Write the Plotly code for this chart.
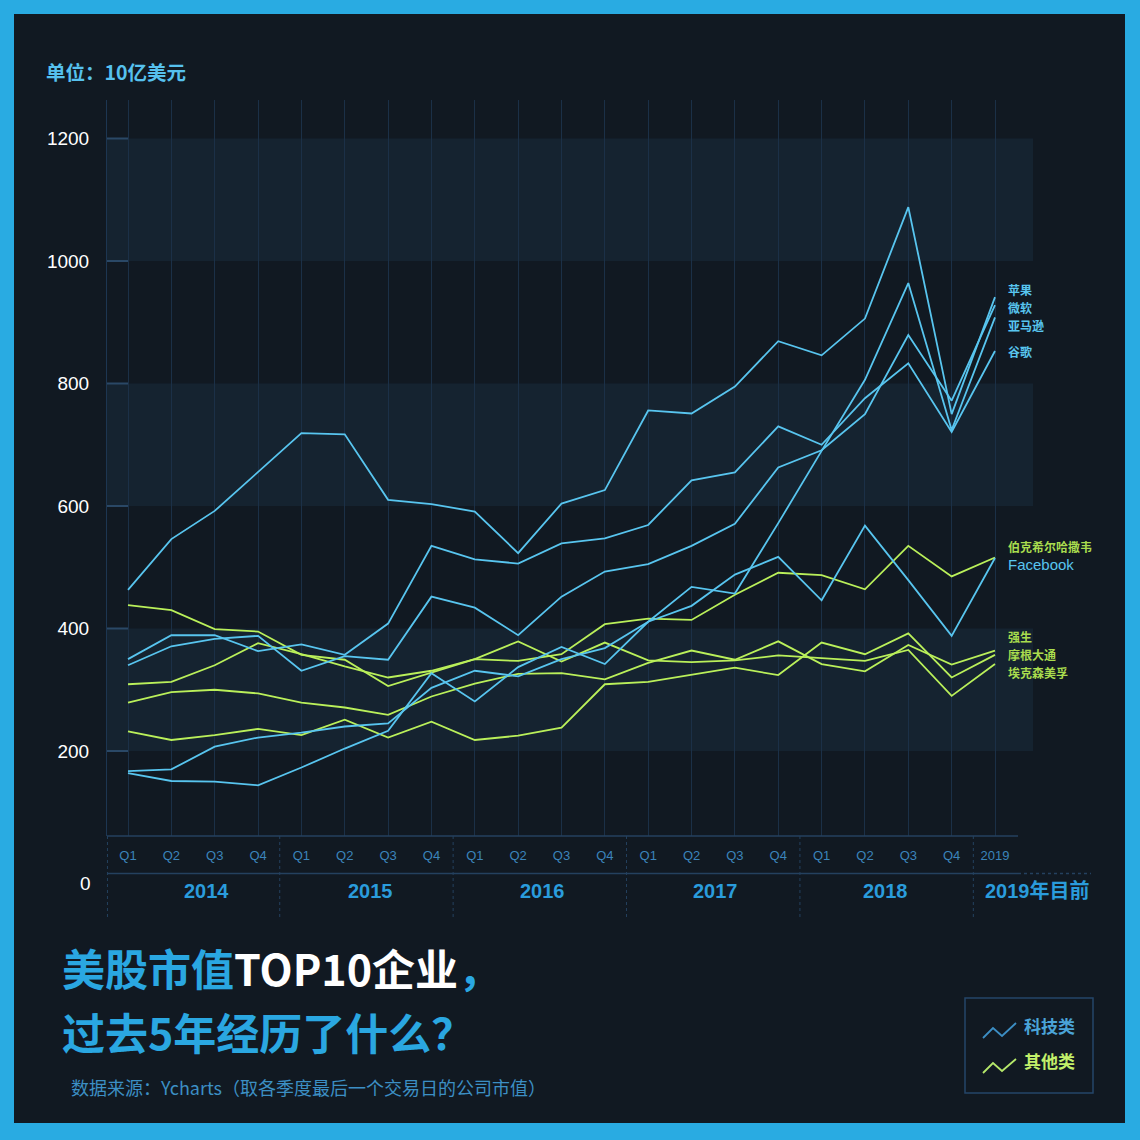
import plotly.graph_objects as go

# ---------------- data (values in billions USD) ----------------
quarter_labels = ["Q1", "Q2", "Q3", "Q4"] * 5 + ["2019"]
year_labels = ["2014", "2015", "2016", "2017", "2018", "2019年目前"]
y_tick_values = [200, 400, 600, 800, 1000, 1200]

apple = [463, 546, 592, 655, 719, 717, 610, 603, 591, 523, 604, 626, 756, 751, 795, 869, 846, 906, 1088, 750, 941]
microsoft = [340, 371, 383, 388, 331, 355, 349, 452, 434, 389, 452, 493, 505, 535, 571, 663, 691, 750, 879, 772, 928]
amazon = [164, 151, 150, 144, 173, 204, 233, 327, 281, 337, 370, 342, 411, 468, 457, 572, 690, 806, 964, 724, 908]
google = [350, 389, 389, 363, 374, 357, 408, 535, 513, 506, 539, 547, 569, 642, 655, 730, 700, 776, 833, 721, 853]
facebook = [167, 170, 207, 222, 230, 240, 245, 303, 331, 322, 350, 368, 411, 437, 488, 517, 446, 568, 479, 388, 515]

berkshire = [309, 313, 340, 376, 358, 338, 320, 331, 350, 347, 358, 407, 416, 414, 455, 491, 487, 464, 535, 485, 516]
exxon = [438, 430, 399, 395, 357, 349, 306, 328, 350, 379, 346, 377, 348, 345, 348, 356, 351, 347, 365, 290, 342]
jnj = [279, 296, 300, 294, 279, 271, 259, 289, 310, 326, 327, 317, 344, 364, 349, 379, 342, 330, 373, 341, 364]
jpm = [232, 218, 226, 236, 226, 251, 222, 248, 218, 225, 238, 309, 313, 324, 336, 324, 377, 358, 392, 320, 357]

tech_series = [("苹果", apple), ("微软", microsoft), ("亚马逊", amazon), ("谷歌", google), ("Facebook", facebook)]
other_series = [("伯克希尔哈撒韦", berkshire), ("强生", jnj), ("摩根大通", jpm), ("埃克森美孚", exxon)]

# ---------------- styling / layout ----------------
FRAME = "#29ABE2"
BG = "#111922"
BAND = "#152330"
GRID = "#1b3047"
CYAN = "#58C5EF"
GREEN = "#BAF05A"
LABEL_GREEN = "#A9DC4E"
TITLE_BLUE = "#2AA7E1"
CJK = "Noto Sans CJK SC"
LATIN = "Liberation Sans, Arial, sans-serif"

L, T, W, H = 107, 100, 926, 736          # plot area in pixels
X0PX, STEP = 128, 43.35                  # pixel of first quarter, pixels per quarter
ZERO_PX, PXU = 873.5, 0.6125             # pixel of value 0, pixels per unit


def px2x(px):
    return (px - L) / W


def px2y(py):
    return (T + H - py) / H


x_range = [(L - X0PX) / STEP, (L + W - X0PX) / STEP]
y_range = [(ZERO_PX - (T + H)) / PXU, (ZERO_PX - T) / PXU]
idx = list(range(len(quarter_labels)))

fig = go.Figure()
for name, vals in other_series:
    fig.add_trace(go.Scatter(x=idx, y=vals, mode="lines", name=name,
                             line=dict(color=GREEN, width=1.8), hoverinfo="skip", showlegend=False))
for name, vals in tech_series:
    fig.add_trace(go.Scatter(x=idx, y=vals, mode="lines", name=name,
                             line=dict(color=CYAN, width=1.8), hoverinfo="skip", showlegend=False))

shapes = []
# inner dark panel inside blue frame
shapes.append(dict(type="rect", xref="paper", yref="paper", x0=px2x(14), x1=px2x(1125),
                   y0=px2y(1123), y1=px2y(14), fillcolor=BG, line=dict(width=0), layer="below"))
# alternating bands
for lo, hi in [(200, 400), (600, 800), (1000, 1200)]:
    shapes.append(dict(type="rect", xref="paper", yref="y", x0=0, x1=1, y0=lo, y1=hi,
                       fillcolor=BAND, line=dict(width=0), layer="below"))
# short tick segments at band boundaries
for v in y_tick_values:
    shapes.append(dict(type="line", xref="paper", yref="y", x0=0, x1=px2x(X0PX), y0=v, y1=v,
                       line=dict(color="#2a4866", width=2), layer="above"))
# x band lines
shapes.append(dict(type="line", xref="paper", yref="paper", x0=0, x1=px2x(1018), y0=0, y1=0,
                   line=dict(color="#24415f", width=1.5)))
shapes.append(dict(type="line", xref="paper", yref="paper", x0=0, x1=px2x(1018),
                   y0=px2y(ZERO_PX), y1=px2y(ZERO_PX), line=dict(color="#24415f", width=1.5)))
shapes.append(dict(type="line", xref="paper", yref="paper", x0=px2x(1018), x1=px2x(1091),
                   y0=px2y(ZERO_PX), y1=px2y(ZERO_PX), line=dict(color="#24415f", width=1.5, dash="dot")))
# dotted year separators
shapes.append(dict(type="line", xref="paper", yref="paper", x0=0.0005, x1=0.0005, y0=0, y1=px2y(917),
                   line=dict(color="#24415f", width=1, dash="dot")))
for s in [3.5, 7.5, 11.5, 15.5, 19.5]:
    shapes.append(dict(type="line", xref="x", yref="paper", x0=s, x1=s, y0=0, y1=px2y(917),
                       line=dict(color="#24415f", width=1, dash="dot")))
# legend box and icons
shapes.append(dict(type="rect", xref="paper", yref="paper", x0=px2x(965), x1=px2x(1093),
                   y0=px2y(1093), y1=px2y(998), line=dict(color="#24466a", width=1.5)))


def icon(pts, color):
    p = "M " + " L ".join(f"{px2x(a)},{px2y(b)}" for a, b in pts)
    return dict(type="path", xref="paper", yref="paper", path=p, line=dict(color=color, width=1.8))


shapes.append(icon([(983, 1038), (993, 1028), (1002, 1036), (1016, 1023)], "#3c8ec4"))
shapes.append(icon([(983, 1073), (993, 1063), (1002, 1071), (1016, 1059)], "#b5e86a"))

ann = []
# unit
ann.append(dict(text="<b>单位：10亿美元</b>", xref="paper", yref="paper", x=px2x(44), y=px2y(72),
                xanchor="left", yanchor="middle", showarrow=False,
                font=dict(family=CJK, size=19.5, color="#56C1EE")))
# zero label
ann.append(dict(text="0", xref="paper", yref="paper", x=px2x(93), y=px2y(883),
                xanchor="right", yanchor="middle", showarrow=False,
                font=dict(family=LATIN, size=19, color="#ffffff")))
# year labels
year_px = [206, 370, 542, 715, 885, 1037]
for lab, xp in zip(year_labels, year_px):
    ann.append(dict(text=f"<b>{lab}</b>", xref="paper", yref="paper", x=px2x(xp), y=px2y(891),
                    xanchor="center", yanchor="middle", showarrow=False,
                    font=dict(family=LATIN + ", " + CJK, size=20, color="#2a9cdc")))

# end labels
end_labels = [("苹果", 289, CYAN, True), ("微软", 307, CYAN, True), ("亚马逊", 325, CYAN, True),
              ("谷歌", 351, CYAN, True), ("伯克希尔哈撒韦", 546, LABEL_GREEN, True),
              ("Facebook", 564, CYAN, False), ("强生", 636, LABEL_GREEN, True),
              ("摩根大通", 654, LABEL_GREEN, True), ("埃克森美孚", 672, LABEL_GREEN, True)]
for lab, yp, col, bold in end_labels:
    ann.append(dict(text=f"<b>{lab}</b>" if bold else lab, xref="paper", yref="paper",
                    x=px2x(1007), y=px2y(yp), xanchor="left", yanchor="middle", showarrow=False,
                    borderpad=0,
                    font=dict(family=CJK if bold else LATIN, size=12 if bold else 15, color=col)))

# title
ann.append(dict(text=f"<b><span style='color:{TITLE_BLUE}'>美股市值</span>TOP10企业<span style='color:{TITLE_BLUE}'>，</span></b>",
                xref="paper", yref="paper", x=px2x(61), y=px2y(967), xanchor="left", yanchor="middle",
                showarrow=False, borderpad=0, font=dict(family=CJK, size=43, color="#ffffff")))
ann.append(dict(text="<b>过去5年经历了什么？</b>", xref="paper", yref="paper", x=px2x(61), y=px2y(1031),
                xanchor="left", yanchor="middle", showarrow=False, borderpad=0,
                font=dict(family=CJK, size=43, color=TITLE_BLUE)))
# source
ann.append(dict(text="数据来源：Ycharts（取各季度最后一个交易日的公司市值）", xref="paper", yref="paper",
                x=px2x(69), y=px2y(1087), xanchor="left", yanchor="middle", showarrow=False,
                font=dict(family=CJK, size=18, color="#3c8fc4")))
# legend text
ann.append(dict(text="<b>科技类</b>", xref="paper", yref="paper", x=px2x(1022), y=px2y(1025),
                xanchor="left", yanchor="middle", showarrow=False,
                font=dict(family=CJK, size=17, color="#4aa3d8")))
ann.append(dict(text="<b>其他类</b>", xref="paper", yref="paper", x=px2x(1022), y=px2y(1060),
                xanchor="left", yanchor="middle", showarrow=False,
                font=dict(family=CJK, size=17, color="#c2f06a")))

fig.update_layout(
    width=1140, height=1140, autosize=False,
    margin=dict(l=L, r=1140 - L - W, t=T, b=1140 - T - H, pad=0),
    paper_bgcolor=FRAME, plot_bgcolor="rgba(0,0,0,0)",
    shapes=shapes, annotations=ann, showlegend=False,
    xaxis=dict(range=x_range, tickmode="array", tickvals=idx, ticktext=quarter_labels,
               showgrid=True, gridcolor=GRID, gridwidth=1, zeroline=False, showline=False,
               ticks="", ticklabelstandoff=10, tickfont=dict(family=LATIN, size=13, color="#3b84bb"),
               fixedrange=True),
    yaxis=dict(range=y_range, tickmode="array", tickvals=y_tick_values,
               ticktext=[str(v) for v in y_tick_values], showgrid=False, zeroline=False,
               showline=True, linecolor="#1d3652", linewidth=1, ticks="", ticklabelstandoff=13,
               tickfont=dict(family=LATIN, size=19, color="#ffffff"), fixedrange=True),
)

fig.write_html("out.html", config={"displayModeBar": False},
               post_script="document.body.style.margin='0';")
